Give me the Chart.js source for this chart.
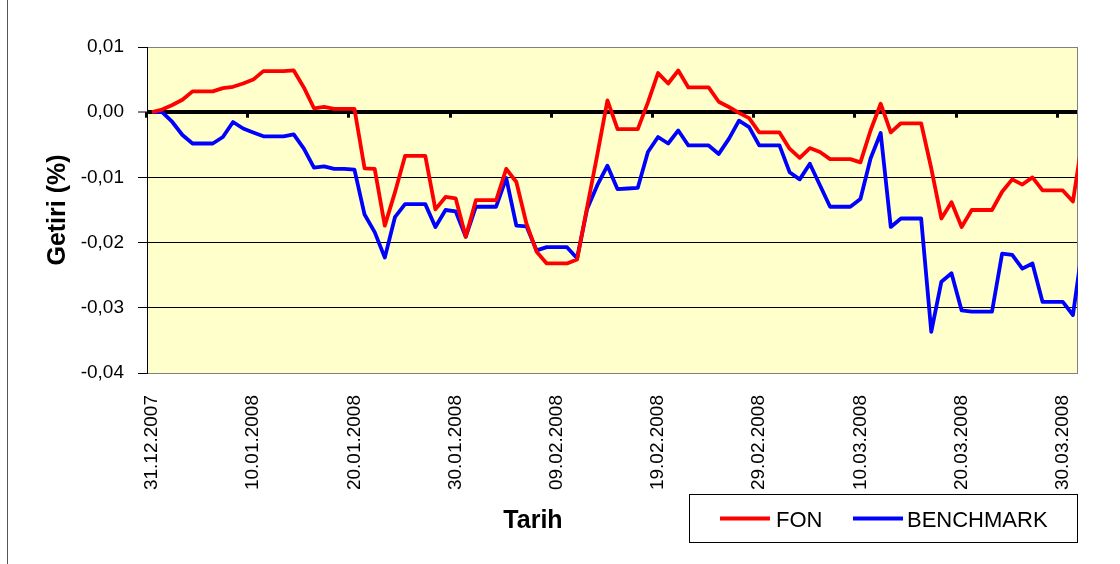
<!DOCTYPE html>
<html>
<head>
<meta charset="utf-8">
<script src="https://cdn.jsdelivr.net/npm/chart.js@4.4.0/dist/chart.umd.min.js"></script>
<style>html,body{margin:0;padding:0;background:#fff;}canvas{display:block;}</style>
</head>
<body>
<canvas id="c" width="1120" height="564"></canvas>
<script>
// ---- categories: one per calendar day ----
const dates = [
'31.12.2007',
'01.01.2008','02.01.2008','03.01.2008','04.01.2008','05.01.2008','06.01.2008','07.01.2008','08.01.2008','09.01.2008','10.01.2008',
'11.01.2008','12.01.2008','13.01.2008','14.01.2008','15.01.2008','16.01.2008','17.01.2008','18.01.2008','19.01.2008','20.01.2008',
'21.01.2008','22.01.2008','23.01.2008','24.01.2008','25.01.2008','26.01.2008','27.01.2008','28.01.2008','29.01.2008','30.01.2008','31.01.2008',
'01.02.2008','02.02.2008','03.02.2008','04.02.2008','05.02.2008','06.02.2008','07.02.2008','08.02.2008','09.02.2008','10.02.2008',
'11.02.2008','12.02.2008','13.02.2008','14.02.2008','15.02.2008','16.02.2008','17.02.2008','18.02.2008','19.02.2008','20.02.2008',
'21.02.2008','22.02.2008','23.02.2008','24.02.2008','25.02.2008','26.02.2008','27.02.2008','28.02.2008','29.02.2008',
'01.03.2008','02.03.2008','03.03.2008','04.03.2008','05.03.2008','06.03.2008','07.03.2008','08.03.2008','09.03.2008','10.03.2008',
'11.03.2008','12.03.2008','13.03.2008','14.03.2008','15.03.2008','16.03.2008','17.03.2008','18.03.2008','19.03.2008','20.03.2008',
'21.03.2008','22.03.2008','23.03.2008','24.03.2008','25.03.2008','26.03.2008','27.03.2008','28.03.2008','29.03.2008','30.03.2008','31.03.2008',
'01.04.2008'
];
const xTickLabels = ['31.12.2007','10.01.2008','20.01.2008','30.01.2008','09.02.2008','19.02.2008','29.02.2008','10.03.2008','20.03.2008','30.03.2008'];
const yTicks = [0.01, 0, -0.01, -0.02, -0.03, -0.04];
const yTickLabels = ['0,01','0,00','-0,01','-0,02','-0,03','-0,04'];
const seriesNames = ['FON','BENCHMARK'];
const seriesColors = ['#FF0000','#0000FF'];
const yTitle = 'Getiri (%)';
const xTitle = 'Tarih';

// ---- series values (one per day) ----
const fon = [
 0.0000, 0.0004, 0.0011, 0.0019, 0.0032, 0.0032, 0.0032, 0.0037, 0.0039, 0.0044,
 0.0050, 0.0063, 0.0063, 0.0063, 0.0064, 0.0038, 0.0006, 0.0008, 0.0005, 0.0005,
 0.0005,-0.0086,-0.0087,-0.0174,-0.0123,-0.0067,-0.0067,-0.0067,-0.0149,-0.0130,
-0.0132,-0.0191,-0.0135,-0.0135,-0.0135,-0.0087,-0.0107,-0.0171,-0.0214,-0.0232,
-0.0232,-0.0232,-0.0226,-0.0145,-0.0065, 0.0018,-0.0026,-0.0026,-0.0026, 0.0015,
 0.0060, 0.0044, 0.0064, 0.0038, 0.0038, 0.0038, 0.0016, 0.0008,-0.0001,-0.0009,
-0.0031,-0.0031,-0.0031,-0.0056,-0.0070,-0.0055,-0.0061,-0.0072,-0.0072,-0.0072,
-0.0077,-0.0028, 0.0013,-0.0031,-0.0017,-0.0017,-0.0017,-0.0086,-0.0163,-0.0138,
-0.0176,-0.0150,-0.0150,-0.0150,-0.0122,-0.0103,-0.0111,-0.0100,-0.0120,-0.0120,
-0.0120,-0.0137,-0.0035
];
const benchmark = [
 0.0000, 0.0000,-0.0015,-0.0035,-0.0048,-0.0048,-0.0048,-0.0038,-0.0015,-0.0025,
-0.0031,-0.0037,-0.0037,-0.0037,-0.0034,-0.0056,-0.0085,-0.0083,-0.0087,-0.0087,
-0.0088,-0.0157,-0.0184,-0.0223,-0.0161,-0.0141,-0.0141,-0.0141,-0.0176,-0.0150,
-0.0152,-0.0191,-0.0145,-0.0145,-0.0145,-0.0101,-0.0174,-0.0175,-0.0212,-0.0207,
-0.0207,-0.0207,-0.0224,-0.0148,-0.0112,-0.0082,-0.0118,-0.0117,-0.0116,-0.0061,
-0.0038,-0.0048,-0.0028,-0.0051,-0.0051,-0.0051,-0.0064,-0.0041,-0.0013,-0.0023,
-0.0051,-0.0051,-0.0051,-0.0092,-0.0103,-0.0079,-0.0112,-0.0145,-0.0145,-0.0145,
-0.0133,-0.0071,-0.0032,-0.0176,-0.0163,-0.0163,-0.0163,-0.0337,-0.0260,-0.0247,
-0.0304,-0.0306,-0.0306,-0.0306,-0.0217,-0.0219,-0.0240,-0.0232,-0.0291,-0.0291,
-0.0291,-0.0311,-0.0200
];

const FONT = '"Liberation Sans", Arial, sans-serif';
Chart.defaults.font.family = FONT;
Chart.defaults.color = '#000';

const toPts = arr => arr.map((v, i) => ({x: i, y: v}));

const deco = {
  id: 'deco',
  beforeDraw(chart) {
    const {ctx, chartArea: a} = chart;
    ctx.save();
    ctx.fillStyle = '#fff';
    ctx.fillRect(0, 0, chart.width, chart.height);
    ctx.fillStyle = '#FFFFCC';
    ctx.fillRect(a.left, a.top, a.right - a.left, a.bottom - a.top);
    ctx.restore();
  },
  beforeDatasetsDraw(chart) {
    const {ctx, chartArea: a, scales: {x, y}} = chart;
    ctx.save();
    // plot area border right side
    ctx.strokeStyle = '#808080';
    ctx.lineWidth = 1;
    ctx.beginPath();
    ctx.moveTo(Math.round(a.right) - 0.5, a.top);
    ctx.lineTo(Math.round(a.right) - 0.5, a.bottom);
    ctx.stroke();
    // tick marks on the zero axis at day boundaries
    const zy = y.getPixelForValue(0);
    ctx.fillStyle = '#000';
    xTickLabels.forEach(l => {
      const px = x.getPixelForValue(dates.indexOf(l) - 0.5);
      ctx.fillRect(Math.round(px) - 2, zy, 3, 5.5);
    });
    ctx.restore();
  },
  afterDraw(chart) {
    const {ctx} = chart;
    ctx.save();
    // outer frame left line
    ctx.strokeStyle = '#555';
    ctx.lineWidth = 1;
    ctx.beginPath();
    ctx.moveTo(7.5, 0);
    ctx.lineTo(7.5, chart.height);
    ctx.stroke();
    // x axis title
    ctx.fillStyle = '#000';
    ctx.font = 'bold 25px ' + FONT;
    ctx.textAlign = 'center';
    ctx.textBaseline = 'alphabetic';
    ctx.fillText(xTitle, 533, 528);
    // legend box
    ctx.fillStyle = '#fff';
    ctx.fillRect(689.5, 494.5, 388, 48);
    ctx.strokeStyle = '#000';
    ctx.strokeRect(689.5, 494.5, 388, 48);
    const items = [{lx: 720, tx: 776}, {lx: 853, tx: 907}];
    ctx.font = '22px ' + FONT;
    ctx.textAlign = 'left';
    chart.data.datasets.forEach((ds, i) => {
      const it = items[i];
      ctx.strokeStyle = ds.borderColor;
      ctx.lineWidth = 4;
      ctx.beginPath();
      ctx.moveTo(it.lx, 518.5);
      ctx.lineTo(it.lx + 50, 518.5);
      ctx.stroke();
      ctx.fillStyle = '#000';
      ctx.fillText(ds.label, it.tx, 526.5);
    });
    ctx.restore();
  }
};

new Chart(document.getElementById('c'), {
  type: 'line',
  data: {
    datasets: [
      {label: seriesNames[0], data: toPts(fon), borderColor: seriesColors[0], backgroundColor: seriesColors[0]},
      {label: seriesNames[1], data: toPts(benchmark), borderColor: seriesColors[1], backgroundColor: seriesColors[1]}
    ]
  },
  options: {
    responsive: false,
    animation: false,
    devicePixelRatio: 1,
    layout: {padding: {left: 8, top: 47, right: 42, bottom: 0}},
    elements: {
      line: {borderWidth: 3.8, tension: 0, borderJoinStyle: 'round', fill: false},
      point: {radius: 0, hoverRadius: 0}
    },
    datasets: {line: {clip: 0}},
    plugins: {legend: {display: false}, tooltip: {enabled: false}},
    events: [],
    scales: {
      x: {
        type: 'linear',
        position: 'bottom',
        min: -0.5,
        max: 91.5,
        afterBuildTicks: s => { s.ticks = xTickLabels.map(l => ({value: dates.indexOf(l)})); },
        afterFit: s => { s.height = 191; },
        grid: {display: false, drawTicks: false},
        border: {display: false},
        ticks: {
          autoSkip: false,
          maxRotation: 90,
          minRotation: 90,
          padding: 22,
          font: {size: 19},
          color: '#000',
          callback: v => dates[v]
        }
      },
      y: {
        type: 'linear',
        position: 'left',
        min: -0.04,
        max: 0.01,
        afterBuildTicks: s => { s.ticks = yTicks.slice().reverse().map(v => ({value: v})); },
        afterFit: s => { s.width = 139; },
        border: {display: true, color: '#000', width: 1},
        grid: {
          color: c => (c.tick && (c.tick.value === 0.01 || c.tick.value === -0.04)) ? '#808080' : '#000',
          lineWidth: c => (c.tick && c.tick.value === 0) ? 4 : 1,
          drawTicks: true,
          tickLength: 9,
          tickWidth: 1,
          tickColor: '#000'
        },
        ticks: {
          padding: 14,
          font: {size: 19},
          color: '#000',
          callback: v => yTickLabels[yTicks.indexOf(v)]
        },
        title: {
          display: true,
          text: yTitle,
          font: {size: 25, weight: 'bold'},
          color: '#000',
          padding: {top: 35, bottom: 0}
        }
      }
    }
  },
  plugins: [deco]
});
</script>
</body>
</html>
